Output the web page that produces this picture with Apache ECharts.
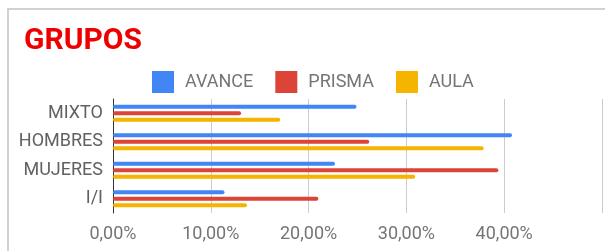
<!DOCTYPE html>
<html>
<head>
    <meta charset="utf-8">
    <title>GRUPOS</title>
    <script src="https://cdn.jsdelivr.net/npm/echarts@6/dist/echarts.min.js"></script>
    <style>
        html, body { margin: 0; padding: 0; background: #fff; }
    </style>
</head>
<body>
    <div id="main" style="width:605px;height:251px;"></div>
    <script type="text/javascript">
        // datos
        var categorias = ['MIXTO', 'HOMBRES', 'MUJERES', 'I/I'];
        var avance = [0.249, 0.408, 0.227, 0.114];
        var prisma = [0.131, 0.262, 0.394, 0.210];
        var aula = [0.171, 0.379, 0.309, 0.137];
        var ticksX = [0, 0.1, 0.2, 0.3, 0.4, 0.5];

        var myChart = echarts.init(document.getElementById('main'));

        function pct(v) {
            return (v * 100).toFixed(2).replace('.', ',') + '%';
        }

        function serie(nombre, datos, color) {
            return {
                name: nombre,
                type: 'bar',
                data: datos,
                barWidth: 4,
                barGap: '60%',
                itemStyle: { color: color, borderRadius: 2 }
            };
        }

        myChart.setOption({
            animation: false,
            textStyle: { fontFamily: 'Roboto' },
            title: {
                text: 'GRUPOS',
                left: 19,
                top: 21,
                textStyle: { color: '#ee0000', fontSize: 30, fontWeight: 'bold', fontFamily: 'Roboto' }
            },
            legend: {
                left: 147,
                top: 66,
                itemWidth: 22,
                itemHeight: 22,
                itemGap: 22,
                icon: 'rect',
                textStyle: { color: '#757575', fontSize: 18, padding: [0, 0, 0, 6] },
                data: ['AVANCE', 'PRISMA', 'AULA']
            },
            grid: { left: 113, right: 3, top: 99, bottom: 38, containLabel: false },
            xAxis: {
                type: 'value',
                min: ticksX[0],
                max: ticksX[ticksX.length - 1],
                interval: 0.1,
                axisLine: { show: false },
                axisTick: { show: false },
                splitLine: { lineStyle: { color: '#cccccc', width: 1 } },
                axisLabel: {
                    color: '#757575',
                    fontSize: 18,
                    margin: 12,
                    showMaxLabel: false,
                    formatter: pct
                }
            },
            yAxis: {
                type: 'category',
                inverse: true,
                data: categorias,
                axisLine: { lineStyle: { color: '#333333', width: 1 } },
                axisTick: { show: false },
                axisLabel: { color: '#616161', fontSize: 18, margin: 10 }
            },
            graphic: [{
                type: 'rect',
                silent: true,
                shape: { x: 8, y: 9, width: 800, height: 400 },
                style: { fill: 'none', stroke: '#c2c2c2', lineWidth: 1.5 }
            }],
            series: [
                serie('AVANCE', avance, '#4285f4'),
                serie('PRISMA', prisma, '#db4437'),
                serie('AULA', aula, '#f4b400')
            ]
        });
    </script>
</body>
</html>
